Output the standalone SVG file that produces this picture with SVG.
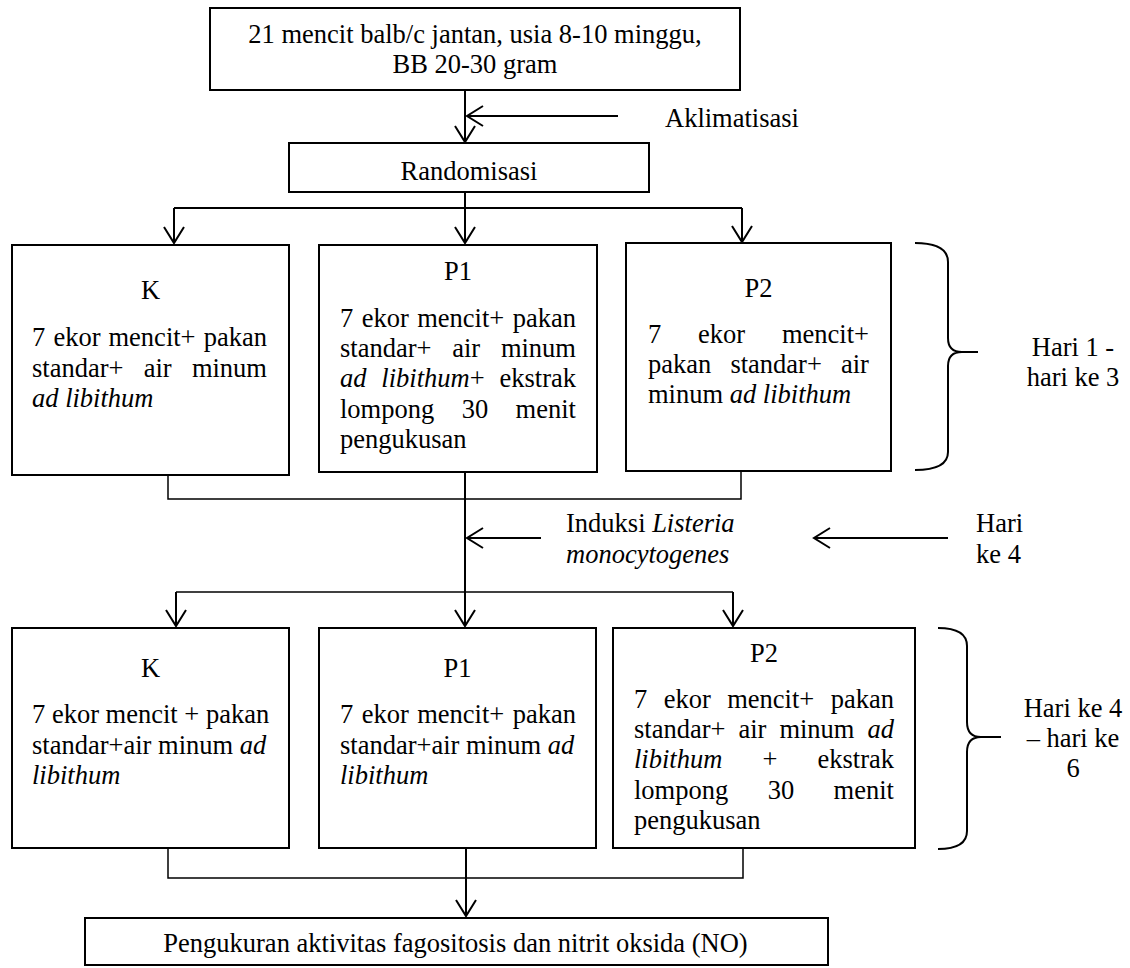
<svg xmlns="http://www.w3.org/2000/svg" width="1130" height="968" viewBox="0 0 1130 968">
<style>
.box{fill:#fff;stroke:#000;stroke-width:2}
.ln{fill:none;stroke:#000;stroke-width:2}
.ln2{fill:none;stroke:#000;stroke-width:1.5}
text{font-family:"Liberation Serif","Times New Roman",serif;font-size:26.5px;fill:#000}
.c{text-anchor:middle}
.i{font-style:italic}
</style>
<defs>
<marker id="ah" markerUnits="userSpaceOnUse" markerWidth="40" markerHeight="40" viewBox="-20 -20 40 40" refX="0" refY="0" orient="auto">
<path d="M-16,-10 L0,0 L-16,10" fill="none" stroke="#000" stroke-width="2"/>
</marker>
</defs>
<rect width="1130" height="968" fill="#fff"/>

<g id="connectors">
<path class="ln" d="M465,90 V142" marker-end="url(#ah)"/>
<path class="ln" d="M618,116 H467" marker-end="url(#ah)"/>
<path class="ln" d="M465,192 V208"/>
<path class="ln" d="M174,208 H742"/>
<path class="ln" d="M174,208 V243" marker-end="url(#ah)"/>
<path class="ln" d="M465,208 V243" marker-end="url(#ah)"/>
<path class="ln" d="M742,208 V242" marker-end="url(#ah)"/>
<path class="ln2" d="M168,475 V499 H741 V471"/>
<path class="ln" d="M465,472 V626" marker-end="url(#ah)"/>
<path class="ln" d="M541,538 H467" marker-end="url(#ah)"/>
<path class="ln" d="M948,538 H814" marker-end="url(#ah)"/>
<path class="ln2" d="M176,592 H733"/>
<path class="ln" d="M176,592 V626" marker-end="url(#ah)"/>
<path class="ln" d="M733,592 V626" marker-end="url(#ah)"/>
<path class="ln2" d="M168,848 V878 H743 V848"/>
<path class="ln" d="M466,848 V916" marker-end="url(#ah)"/>
<path class="ln" d="M915,243 Q948,243 948,262 V338 Q948,352 962,352 H978 M962,352 Q948,352 948,366 V452 Q948,470 915,470"/>
<path class="ln" d="M938,628 Q967,628 967,646 V722 Q967,737 981,737 H1001 M981,737 Q967,737 967,752 V831 Q967,849 938,849"/>
</g>

<g id="n-start">
<rect class="box" x="210" y="8" width="530" height="82"/>
<text class="c" x="475" y="43">21 mencit balb/c jantan, usia 8-10 minggu,</text>
<text class="c" x="475" y="73">BB 20-30 gram</text>
</g>

<g id="n-akl"><text x="665" y="127">Aklimatisasi</text></g>

<g id="n-rand">
<rect class="box" x="289" y="143" width="360" height="49"/>
<text class="c" x="469" y="180">Randomisasi</text>
</g>

<g id="n-k1">
<rect class="box" x="12" y="245" width="277" height="230"/>
<text class="c" x="150.5" y="299">K</text>
<text y="346"><tspan x="32">7</tspan><tspan x="53.4">ekor</tspan><tspan x="108.5">mencit+</tspan><tspan x="203.7">pakan</tspan></text>
<text y="376.5"><tspan x="32">standar+</tspan><tspan x="143.7">air</tspan><tspan x="191.9">minum</tspan></text>
<text y="407" class="i" x="32">ad libithum</text>
</g>

<g id="n-p1a">
<rect class="box" x="319" y="245" width="278" height="227"/>
<text class="c" x="458" y="280">P1</text>
<text y="327"><tspan x="340">7</tspan><tspan x="361.7">ekor</tspan><tspan x="417.2">mencit+</tspan><tspan x="512.7">pakan</tspan></text>
<text y="357.2"><tspan x="340">standar+</tspan><tspan x="452.2">air</tspan><tspan x="500.9">minum</tspan></text>
<text y="387.4"><tspan x="340" class="i">ad</tspan><tspan x="381.3" class="i">libithum</tspan><tspan>+</tspan><tspan x="499.5">ekstrak</tspan></text>
<text y="417.7"><tspan x="340">lompong</tspan><tspan x="461.7">30</tspan><tspan x="515.6">menit</tspan></text>
<text y="448" x="340">pengukusan</text>
</g>

<g id="n-p2a">
<rect class="box" x="626" y="243" width="265" height="228"/>
<text class="c" x="758.5" y="297">P2</text>
<text y="343.3"><tspan x="648">7</tspan><tspan x="698">ekor</tspan><tspan x="781.9">mencit+</tspan></text>
<text y="373.3"><tspan x="648">pakan</tspan><tspan x="730.4">standar+</tspan><tspan x="841">air</tspan></text>
<text y="403.3" x="648">minum <tspan class="i">ad libithum</tspan></text>
</g>

<g id="n-hari13">
<text class="c" x="1073" y="356">Hari 1 -</text>
<text class="c" x="1073" y="386">hari ke 3</text>
</g>

<g id="n-induksi">
<text x="566" y="532">Induksi <tspan class="i">Listeria</tspan></text>
<text x="566" y="563" class="i">monocytogenes</text>
</g>

<g id="n-hari4">
<text x="976" y="532">Hari</text>
<text x="976" y="563">ke 4</text>
</g>

<g id="n-k2">
<rect class="box" x="12" y="628" width="277" height="220"/>
<text class="c" x="150.5" y="677">K</text>
<text y="723" x="32">7 ekor mencit + pakan</text>
<text y="753.5" x="32">standar+air minum <tspan class="i">ad</tspan></text>
<text y="784" x="32" class="i">libithum</text>
</g>

<g id="n-p1b">
<rect class="box" x="319" y="628" width="277" height="220"/>
<text class="c" x="457.5" y="677">P1</text>
<text y="723"><tspan x="340">7</tspan><tspan x="361.7">ekor</tspan><tspan x="417.2">mencit+</tspan><tspan x="512.7">pakan</tspan></text>
<text y="753.5" x="340">standar+air minum <tspan class="i">ad</tspan></text>
<text y="784" x="340" class="i">libithum</text>
</g>

<g id="n-p2b">
<rect class="box" x="613" y="628" width="302" height="220"/>
<text class="c" x="764" y="662">P2</text>
<text y="708"><tspan x="634">7</tspan><tspan x="663.7">ekor</tspan><tspan x="727.2">mencit+</tspan><tspan x="830.7">pakan</tspan></text>
<text y="738"><tspan x="634">standar+</tspan><tspan x="738.5">air</tspan><tspan x="779.4">minum</tspan><tspan x="867.5" class="i">ad</tspan></text>
<text y="768"><tspan x="634" class="i">libithum</tspan><tspan x="762.4">+</tspan><tspan x="817.5">ekstrak</tspan></text>
<text y="798.5"><tspan x="634">lompong</tspan><tspan x="767.7">30</tspan><tspan x="833.6">menit</tspan></text>
<text y="829" x="634">pengukusan</text>
</g>

<g id="n-hari46">
<text class="c" x="1073" y="717">Hari ke 4</text>
<text class="c" x="1073" y="747">– hari ke</text>
<text class="c" x="1073" y="777">6</text>
</g>

<g id="n-end">
<rect class="box" x="85" y="918" width="743" height="47"/>
<text class="c" x="455.5" y="952">Pengukuran aktivitas fagositosis dan nitrit oksida (NO)</text>
</g>
</svg>
